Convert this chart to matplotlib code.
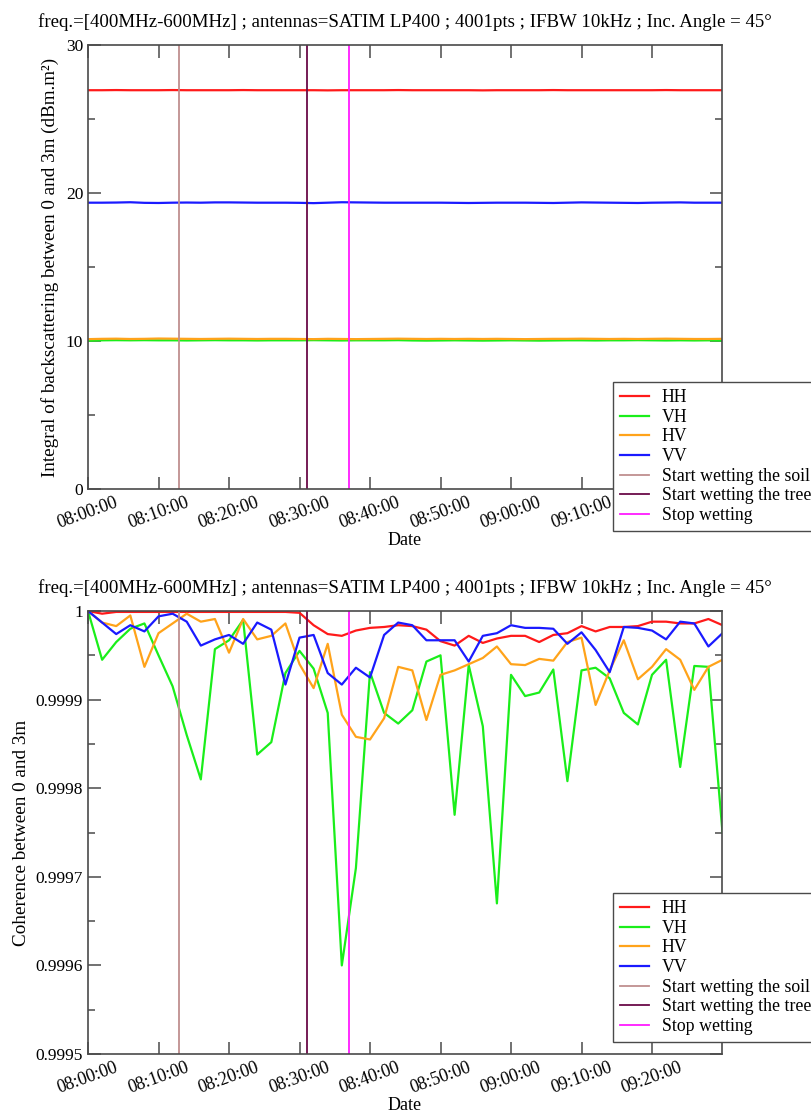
import datetime as dt
import pandas as pd
import matplotlib
matplotlib.use("Agg")
import matplotlib.pyplot as plt
import matplotlib.dates as mdates
from matplotlib.ticker import MultipleLocator, FuncFormatter

plt.rcParams["font.family"] = ["Liberation Serif", "DejaVu Serif"]

TITLE = "freq.=[400MHz-600MHz] ; antennas=SATIM LP400 ; 4001pts ; IFBW 10kHz ; Inc. Angle = 45°"

# acquisition times, one every 2 minutes
times = pd.date_range("2020-01-01 08:00:00", periods=46, freq="2min")

# events (vertical lines)
t_soil = dt.datetime(2020, 1, 1, 8, 12, 54)
t_tree = dt.datetime(2020, 1, 1, 8, 31, 0)
t_stop = dt.datetime(2020, 1, 1, 8, 37, 0)

# ---- top panel: integral of backscattering (dBm.m²) ----
int_hh = [26.95, 26.95, 26.96, 26.95, 26.95, 26.95, 26.96, 26.95, 26.95, 26.95,
          26.95, 26.96, 26.95, 26.95, 26.95, 26.95, 26.95, 26.94, 26.95, 26.95,
          26.95, 26.95, 26.96, 26.95, 26.95, 26.95, 26.95, 26.95, 26.94, 26.95,
          26.95, 26.95, 26.95, 26.96, 26.95, 26.95, 26.95, 26.95, 26.95, 26.95,
          26.95, 26.96, 26.95, 26.95, 26.95, 26.95]
int_vh = [10.02, 10.05, 10.06, 10.05, 10.06, 10.05, 10.05, 10.04, 10.05, 10.06,
          10.05, 10.05, 10.04, 10.05, 10.05, 10.05, 10.06, 10.05, 10.04, 10.05,
          10.05, 10.05, 10.06, 10.04, 10.03, 10.04, 10.05, 10.04, 10.03, 10.04,
          10.05, 10.04, 10.03, 10.04, 10.05, 10.05, 10.04, 10.05, 10.05, 10.06,
          10.05, 10.04, 10.05, 10.04, 10.05, 10.03]
int_hv = [10.13, 10.15, 10.16, 10.14, 10.15, 10.17, 10.16, 10.15, 10.14, 10.15,
          10.16, 10.15, 10.14, 10.15, 10.15, 10.14, 10.13, 10.15, 10.14, 10.13,
          10.14, 10.15, 10.16, 10.15, 10.14, 10.15, 10.14, 10.15, 10.14, 10.15,
          10.14, 10.13, 10.14, 10.15, 10.15, 10.16, 10.15, 10.14, 10.15, 10.14,
          10.15, 10.16, 10.15, 10.14, 10.14, 10.15]
int_vv = [19.35, 19.35, 19.36, 19.38, 19.34, 19.33, 19.35, 19.36, 19.35, 19.37,
          19.37, 19.36, 19.35, 19.35, 19.35, 19.34, 19.32, 19.35, 19.38, 19.37,
          19.36, 19.35, 19.35, 19.35, 19.35, 19.35, 19.34, 19.33, 19.34, 19.35,
          19.35, 19.35, 19.34, 19.33, 19.35, 19.37, 19.36, 19.35, 19.34, 19.33,
          19.35, 19.36, 19.37, 19.35, 19.35, 19.35]

# ---- bottom panel: coherence between 0 and 3m ----
coh_hh = [1.0, 0.999997, 0.999999, 0.999999, 0.999999, 0.999999, 0.999999, 0.999999,
          0.999999, 0.999999, 0.999999, 0.999999, 0.999999, 0.999999, 0.999999, 0.999998,
          0.999984, 0.999974, 0.999972, 0.999978, 0.999981, 0.999982, 0.999984, 0.999983,
          0.999979, 0.999966, 0.999961, 0.999972, 0.999964, 0.999969, 0.999972, 0.999972,
          0.999965, 0.999973, 0.999975, 0.999983, 0.999977, 0.999982, 0.999982, 0.999983,
          0.999988, 0.999988, 0.999986, 0.999986, 0.999991, 0.999984]
coh_vh = [1.0, 0.999945, 0.999965, 0.99998, 0.999986, 0.99995, 0.999915, 0.99986,
          0.99981, 0.999957, 0.999967, 0.99999, 0.999838, 0.999852, 0.99993, 0.999955,
          0.999935, 0.999885, 0.9996, 0.99971, 0.999931, 0.999885, 0.999873, 0.999888,
          0.999943, 0.99995, 0.99977, 0.999939, 0.99987, 0.99967, 0.999928, 0.999904,
          0.999908, 0.999934, 0.999808, 0.999933, 0.999936, 0.999924, 0.999885, 0.999872,
          0.999928, 0.999945, 0.999824, 0.999938, 0.999937, 0.99975]
coh_hv = [1.0, 0.999987, 0.999983, 0.999995, 0.999937, 0.999975, 0.999986, 0.999997,
          0.999988, 0.999991, 0.999953, 0.999991, 0.999968, 0.999972, 0.999986, 0.99994,
          0.999913, 0.999963, 0.999883, 0.999858, 0.999855, 0.999879, 0.999937, 0.999933,
          0.999877, 0.999928, 0.999933, 0.99994, 0.999947, 0.99996, 0.99994, 0.999939,
          0.999946, 0.999944, 0.999965, 0.99997, 0.999894, 0.999933, 0.999967, 0.999923,
          0.999937, 0.999957, 0.999945, 0.999911, 0.999937, 0.999945]
coh_vv = [1.0, 0.999987, 0.999974, 0.999984, 0.999977, 0.999994, 0.999997, 0.999988,
          0.999961, 0.999968, 0.999973, 0.999963, 0.999987, 0.999979, 0.999917, 0.99997,
          0.999973, 0.99993, 0.999917, 0.999936, 0.999925, 0.999973, 0.999987, 0.999984,
          0.999967, 0.999967, 0.999967, 0.999943, 0.999972, 0.999975, 0.999984, 0.999981,
          0.999981, 0.99998, 0.999963, 0.999976, 0.999956, 0.999931, 0.999982, 0.999981,
          0.999978, 0.999968, 0.999988, 0.999986, 0.99996, 0.999975]

SERIES_COLORS = {"HH": "#ff1a1a", "VH": "#1aee1a", "HV": "#ffa31a", "VV": "#1a1aff"}
EVENT_COLORS = {"soil": "#bf8f8f", "tree": "#6a0a48", "stop": "#ff1aff"}
FRAME = "#4a4a4a"


def style_axes(ax):
    for sp in ax.spines.values():
        sp.set_color(FRAME)
        sp.set_linewidth(1.2)
    ax.tick_params(which="both", direction="in", top=True, right=True,
                   colors=FRAME, labelcolor="black", labelsize=12.5)
    ax.tick_params(axis="x", labelsize=13)
    ax.tick_params(which="major", length=9, width=1.1)
    ax.tick_params(which="minor", length=5, width=1.1)
    ax.xaxis.set_major_locator(mdates.MinuteLocator(byminute=range(0, 60, 10)))
    ax.xaxis.set_major_formatter(mdates.DateFormatter("%H:%M:%S"))
    ax.set_xlim(dt.datetime(2020, 1, 1, 8, 0), dt.datetime(2020, 1, 1, 9, 29, 56))
    for lab in ax.get_xticklabels():
        lab.set_rotation(20)
        lab.set_ha("center")
    ax.set_xlabel("Date", fontsize=13, labelpad=0)
    ax.set_title(TITLE, fontsize=13.6, pad=13)


def draw_panel(ax, hh, vh, hv, vv, legend_anchor):
    ax.plot(times, hh, color=SERIES_COLORS["HH"], lw=1.6, label="HH")
    ax.plot(times, vh, color=SERIES_COLORS["VH"], lw=1.6, label="VH")
    ax.plot(times, hv, color=SERIES_COLORS["HV"], lw=1.6, label="HV")
    ax.plot(times, vv, color=SERIES_COLORS["VV"], lw=1.6, label="VV")
    ax.axvline(t_soil, color=EVENT_COLORS["soil"], lw=1.3, label="Start wetting the soil")
    ax.axvline(t_tree, color=EVENT_COLORS["tree"], lw=1.3, label="Start wetting the tree")
    ax.axvline(t_stop, color=EVENT_COLORS["stop"], lw=1.3, label="Stop wetting")
    style_axes(ax)
    leg = ax.legend(loc="upper left", bbox_to_anchor=legend_anchor,
                    bbox_transform=ax.figure.transFigure, fontsize=12.8,
                    frameon=True, fancybox=False, framealpha=1,
                    borderpad=0.4, labelspacing=0.15, handlelength=1.6,
                    handletextpad=0.75, borderaxespad=0)
    leg.get_frame().set_edgecolor(FRAME)
    leg.get_frame().set_linewidth(1.0)
    leg.set_zorder(10)


fig = plt.figure(figsize=(8.12, 11.13), dpi=100)

# top panel: y from 45 px to 489 px
ax1 = fig.add_axes([0.1084, 0.5606, 0.7808, 0.3989])
draw_panel(ax1, int_hh, int_vh, int_hv, int_vv, (0.755, 0.6568))
ax1.set_ylim(0, 30)
ax1.yaxis.set_major_locator(MultipleLocator(10))
ax1.yaxis.set_minor_locator(MultipleLocator(5))
ax1.set_ylabel("Integral of backscattering between 0 and 3m (dBm.m²)", fontsize=13.8, labelpad=5)

# bottom panel: y from 611 px to 1054 px
ax2 = fig.add_axes([0.1084, 0.0530, 0.7808, 0.3980])
draw_panel(ax2, coh_hh, coh_vh, coh_hv, coh_vv, (0.755, 0.1977))
ax2.set_ylim(0.9995, 1.0)
ax2.yaxis.set_major_locator(MultipleLocator(0.0001))
ax2.yaxis.set_minor_locator(MultipleLocator(0.00005))
ax2.yaxis.set_major_formatter(FuncFormatter(lambda v, p: f"{v:.4f}".rstrip("0").rstrip(".")))
ax2.set_ylabel("Coherence between 0 and 3m", fontsize=13.8, labelpad=4)

fig.savefig("out.png", dpi=100)
